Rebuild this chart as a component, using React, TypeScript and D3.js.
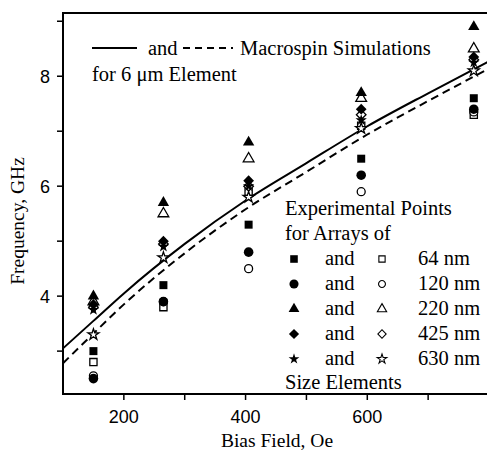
import React from 'react';
import * as d3 from 'd3';

// bias field of the five measured columns, Oe
const fields = [150, 265, 405, 590, 775];
const sizeLabels = ['64 nm', '120 nm', '220 nm', '425 nm', '630 nm'];

// filled symbols, GHz
const filled64 = [3.0, 4.2, 5.3, 6.5, 7.6];
const filled120 = [2.5, 3.9, 4.8, 6.2, 7.4];
const filled220 = [4.0, 5.7, 6.8, 7.7, 8.9];
const filled425 = [3.85, 5.0, 6.1, 7.4, 8.35];
const filled630 = [3.75, 4.9, 6.0, 7.2, 8.25];

// open symbols, GHz
const open64 = [2.8, 3.8, 5.9, 7.1, 7.3];
const open120 = [2.55, 3.9, 4.5, 5.9, 7.35];
const open220 = [3.9, 5.5, 6.5, 7.6, 8.5];
const open425 = [3.8, 4.95, 6.0, 7.3, 8.3];
const open630 = [3.3, 4.7, 5.8, 7.05, 8.1];

// macrospin simulation curves
const simField = [100, 150, 200, 300, 400, 500, 600, 700, 800];
const simSolid = [3.05, 3.55, 4.05, 4.95, 5.74, 6.42, 7.09, 7.69, 8.27];
const simDashed = [2.78, 3.32, 3.85, 4.78, 5.58, 6.26, 6.94, 7.55, 8.14];

const xTicks = [200, 300, 400, 500, 600, 700, 800];
const xLabels = [200, 400, 600];
const yTicks = [3, 4, 5, 6, 7, 8, 9];
const yLabels = [4, 6, 8];

const filledSets = [filled64, filled120, filled220, filled425, filled630];
const openSets = [open64, open120, open220, open425, open630];

const W = 487, H = 452;
const m = { left: 63, top: 13, right: 489, bottom: 394 };

const serif = '"Liberation Serif", "Times New Roman", serif';
const sans = '"Liberation Sans", Arial, sans-serif';

const symbolFor = (i: number, size: number) => {
  const types = [d3.symbolSquare, d3.symbolCircle, d3.symbolTriangle, d3.symbolSquare, d3.symbolStar];
  return d3.symbol().type(types[i]).size(size)() as string;
};
const filledSize = [64, 72, 56, 58, 40];
const openSize = [52, 50, 50, 46, 38];
const rot = (i: number) => (i === 3 ? ' rotate(45)' : '');

export default function App() {
  const x = d3.scaleLinear().domain([100, 800]).range([m.left, m.right]);
  const y = d3.scaleLinear().domain([2.22, 9.15]).range([m.bottom, m.top]);

  const line = d3.line<number>()
    .x((_, i) => x(simField[i]))
    .y(d => y(d))
    .curve(d3.curveMonotoneX);

  const legendRows = [265, 290, 315, 340, 365];

  return (
    <svg width={W} height={H} style={{ position: 'absolute', left: 0, top: 0, background: '#fff' }}>
      <rect x={m.left} y={m.top} width={m.right - m.left} height={m.bottom - m.top}
        fill="none" stroke="#000" strokeWidth={2} />

      {/* ticks */}
      {xTicks.map(t => (
        <line key={'xt' + t} x1={x(t)} x2={x(t)} y1={m.bottom} y2={m.bottom + 6} stroke="#000" strokeWidth={1.5} />
      ))}
      {xLabels.map(t => (
        <text key={'xl' + t} x={x(t)} y={423} textAnchor="middle" style={{ fontFamily: sans }} fontSize={18}>{t}</text>
      ))}
      {yTicks.map(t => (
        <line key={'yt' + t} x1={m.left - 6} x2={m.left} y1={y(t)} y2={y(t)} stroke="#000" strokeWidth={1.5} />
      ))}
      {yLabels.map(t => (
        <text key={'yl' + t} x={m.left - 13} y={y(t) + 6.5} textAnchor="end" style={{ fontFamily: sans }} fontSize={18}>{t}</text>
      ))}

      <text x={277} y={447} textAnchor="middle" style={{ fontFamily: serif }} fontSize={19.5}>Bias Field, Oe</text>
      <text transform="translate(24,221) rotate(-90)" textAnchor="middle" style={{ fontFamily: serif }} fontSize={19.5}>Frequency, GHz</text>

      {/* simulations */}
      <path d={line(simSolid) || ''} fill="none" stroke="#000" strokeWidth={2} />
      <path d={line(simDashed) || ''} fill="none" stroke="#000" strokeWidth={2} strokeDasharray="8,5" />

      {/* open points */}
      {openSets.map((set, i) => set.map((v, j) => (
        <path key={'o' + i + '-' + j} d={symbolFor(i, openSize[i])}
          transform={`translate(${x(fields[j])},${y(v)})${rot(i)}`}
          fill="#fff" stroke="#000" strokeWidth={1.3} />
      )))}
      {/* filled points */}
      {filledSets.map((set, i) => set.map((v, j) => (
        <path key={'f' + i + '-' + j} d={symbolFor(i, filledSize[i])}
          transform={`translate(${x(fields[j])},${y(v)})${rot(i)}`}
          fill="#000" />
      )))}

      {/* top legend */}
      <g style={{ fontFamily: serif }} fontSize={20.5}>
        <line x1={92} x2={137} y1={48} y2={48} stroke="#000" strokeWidth={2} />
        <text x={148} y={55}>and</text>
        <line x1={183} x2={233} y1={48} y2={48} stroke="#000" strokeWidth={2} strokeDasharray="7,5" />
        <text x={240} y={55}>Macrospin Simulations</text>
        <text x={92} y={81}>for 6 μm Element</text>
      </g>

      {/* right legend */}
      <g style={{ fontFamily: serif }} fontSize={20.5}>
        <text x={285} y={215}>Experimental Points</text>
        <text x={285} y={240}>for Arrays of</text>
        {legendRows.map((ry, i) => (
          <g key={'lg' + i}>
            <path d={symbolFor(i, filledSize[i] * 0.9)} transform={`translate(294,${ry - 6})${rot(i)}`} fill="#000" />
            <text x={325} y={ry}>and</text>
            <path d={symbolFor(i, openSize[i] * 0.75)} transform={`translate(382,${ry - 6})${rot(i)}`}
              fill="#fff" stroke="#000" strokeWidth={1.1} />
            <text x={418} y={ry}>{sizeLabels[i]}</text>
          </g>
        ))}
        <text x={285} y={389}>Size Elements</text>
      </g>
    </svg>
  );
}
